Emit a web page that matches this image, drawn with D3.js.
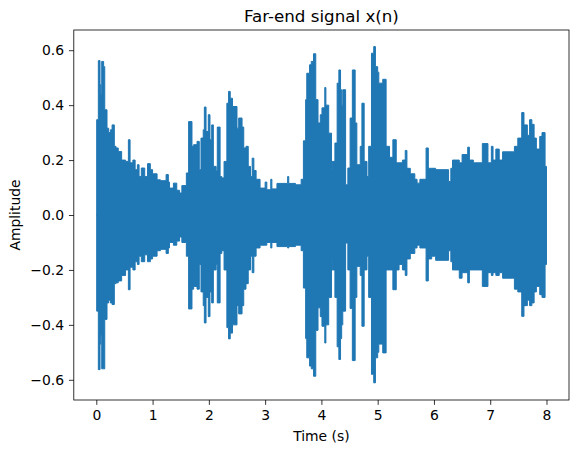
<!DOCTYPE html>
<html>
<head>
<meta charset="utf-8">
<script src="https://cdn.jsdelivr.net/npm/d3@7"></script>
<style>
  html, body { margin: 0; padding: 0; background: #fff; }
  svg { display: block; }
  text { font-family: "DejaVu Sans", sans-serif; fill: #000; }
</style>
</head>
<body>
<svg id="chart" width="579" height="453"></svg>
<script>
// Envelope of the far-end signal: segment start time (s),
// max amplitude and min amplitude within that segment.
const times = [0.000,0.007,0.036,0.066,0.080,0.096,0.130,0.150,0.190,0.220,0.250,0.280,0.320,0.350,0.390,0.450,0.520,0.570,0.600,0.650,0.690,0.730,0.760,0.800,0.860,0.910,0.960,1.000,1.080,1.140,1.240,1.280,1.300,1.370,1.430,1.480,1.520,1.600,1.640,1.700,1.730,1.790,1.830,1.860,1.900,1.920,1.950,1.990,2.020,2.050,2.080,2.130,2.150,2.200,2.230,2.270,2.320,2.350,2.380,2.420,2.500,2.530,2.590,2.620,2.660,2.700,2.740,2.770,2.800,2.840,2.910,3.000,3.030,3.100,3.120,3.210,3.400,3.420,3.540,3.640,3.680,3.720,3.740,3.790,3.820,3.860,3.900,3.940,3.980,4.010,4.060,4.080,4.130,4.180,4.190,4.240,4.280,4.310,4.340,4.360,4.380,4.430,4.470,4.510,4.550,4.600,4.630,4.690,4.720,4.760,4.810,4.840,4.890,4.930,4.960,5.000,5.020,5.090,5.150,5.210,5.270,5.330,5.380,5.440,5.490,5.520,5.580,5.660,5.700,5.750,5.860,5.900,5.960,6.030,6.260,6.300,6.330,6.450,6.500,6.600,6.630,6.700,6.860,6.960,7.020,7.050,7.100,7.160,7.220,7.400,7.430,7.490,7.560,7.600,7.660,7.700,7.740,7.780,7.820,7.880,7.920,7.975,8.000];
const upper = [0.000,0.347,0.562,0.474,0.440,0.559,0.540,0.383,0.316,0.300,0.310,0.328,0.250,0.244,0.231,0.200,0.195,0.274,0.190,0.200,0.165,0.183,0.140,0.171,0.140,0.187,0.165,0.150,0.128,0.125,0.147,0.120,0.098,0.116,0.090,0.080,0.107,0.153,0.340,0.250,0.256,0.268,0.165,0.280,0.310,0.393,0.304,0.365,0.274,0.328,0.177,0.160,0.320,0.140,0.135,0.195,0.407,0.450,0.425,0.395,0.316,0.353,0.320,0.244,0.250,0.177,0.140,0.207,0.162,0.130,0.098,0.120,0.092,0.130,0.095,0.115,0.140,0.115,0.110,0.130,0.270,0.420,0.516,0.547,0.559,0.587,0.420,0.335,0.365,0.390,0.464,0.400,0.298,0.165,0.195,0.262,0.480,0.528,0.456,0.400,0.456,0.110,0.171,0.353,0.528,0.335,0.183,0.250,0.407,0.195,0.140,0.250,0.589,0.613,0.540,0.520,0.480,0.494,0.250,0.210,0.274,0.190,0.190,0.200,0.235,0.170,0.150,0.130,0.116,0.130,0.244,0.170,0.170,0.165,0.122,0.170,0.200,0.190,0.220,0.247,0.200,0.190,0.260,0.190,0.250,0.200,0.240,0.200,0.230,0.230,0.250,0.280,0.373,0.328,0.290,0.347,0.330,0.280,0.240,0.286,0.300,0.177,0.000];
const lower = [0.000,-0.350,-0.563,-0.470,-0.440,-0.560,-0.560,-0.380,-0.320,-0.310,-0.320,-0.326,-0.250,-0.247,-0.240,-0.220,-0.200,-0.272,-0.190,-0.200,-0.170,-0.180,-0.150,-0.170,-0.145,-0.170,-0.160,-0.150,-0.130,-0.125,-0.140,-0.120,-0.100,-0.110,-0.095,-0.080,-0.100,-0.150,-0.342,-0.270,-0.260,-0.270,-0.180,-0.280,-0.330,-0.393,-0.300,-0.370,-0.280,-0.320,-0.200,-0.180,-0.320,-0.140,-0.130,-0.200,-0.410,-0.451,-0.430,-0.400,-0.330,-0.360,-0.330,-0.270,-0.250,-0.200,-0.150,-0.210,-0.150,-0.120,-0.110,-0.110,-0.100,-0.120,-0.100,-0.115,-0.120,-0.115,-0.110,-0.130,-0.266,-0.450,-0.520,-0.550,-0.560,-0.587,-0.420,-0.338,-0.370,-0.405,-0.466,-0.400,-0.300,-0.163,-0.200,-0.300,-0.480,-0.526,-0.450,-0.400,-0.350,-0.102,-0.200,-0.340,-0.530,-0.300,-0.187,-0.220,-0.405,-0.200,-0.150,-0.300,-0.580,-0.611,-0.520,-0.500,-0.470,-0.502,-0.200,-0.200,-0.272,-0.200,-0.180,-0.200,-0.220,-0.160,-0.140,-0.120,-0.110,-0.120,-0.240,-0.160,-0.150,-0.165,-0.130,-0.170,-0.200,-0.230,-0.210,-0.247,-0.200,-0.200,-0.260,-0.210,-0.220,-0.210,-0.220,-0.210,-0.230,-0.230,-0.270,-0.280,-0.369,-0.330,-0.310,-0.330,-0.320,-0.280,-0.260,-0.290,-0.300,-0.180,0.000];

const xTicks = [0, 1, 2, 3, 4, 5, 6, 7, 8];
const yTicks = [-0.6, -0.4, -0.2, 0.0, 0.2, 0.4, 0.6];
const titleText = "Far-end signal x(n)";
const xLabel = "Time (s)";
const yLabel = "Amplitude";

const W = 579, H = 453;
const plot = { left: 73.8, right: 569, top: 30, bottom: 400 };
const color = "#1f77b4";
const tickLen = 4.86;

const svg = d3.select("#chart");
const x = d3.scaleLinear().domain([-0.4, 8.4]).range([plot.left, plot.right]);
const y = d3.scaleLinear().domain([-0.6735, 0.6735]).range([plot.bottom, plot.top]);

const data = times.map((t, i) => ({ t, hi: upper[i], lo: lower[i] }));

svg.append("clipPath").attr("id", "clip")
  .append("rect").attr("x", plot.left).attr("y", plot.top)
  .attr("width", plot.right - plot.left).attr("height", plot.bottom - plot.top);

const area = d3.area()
  .x(d => x(d.t))
  .y0(d => y(d.lo))
  .y1(d => y(d.hi))
  .curve(d3.curveStepAfter);

svg.append("path")
  .datum(data)
  .attr("clip-path", "url(#clip)")
  .attr("d", area)
  .attr("fill", color)
  .attr("stroke", color)
  .attr("stroke-width", 1)
  .attr("stroke-linejoin", "miter");

// Axes
const xAxis = d3.axisBottom(x).tickValues(xTicks).tickFormat(d3.format("d"))
  .tickSizeInner(tickLen).tickSizeOuter(0).tickPadding(tickLen);
const yAxis = d3.axisLeft(y).tickValues(yTicks)
  .tickFormat(d => d3.format(".1f")(d).replace("-", "\u2212"))
  .tickSizeInner(tickLen).tickSizeOuter(0).tickPadding(tickLen);

const gx = svg.append("g").attr("transform", `translate(0,${plot.bottom})`).call(xAxis);
const gy = svg.append("g").attr("transform", `translate(${plot.left},0)`).call(yAxis);
[gx, gy].forEach(g => {
  g.select(".domain").remove();
  g.selectAll(".tick line").attr("stroke", "#000").attr("stroke-width", 0.8);
  g.selectAll(".tick text").attr("font-family", "DejaVu Sans").attr("font-size", "13.9px").attr("fill", "#000");
});

// Spines
svg.append("rect")
  .attr("x", plot.left).attr("y", plot.top)
  .attr("width", plot.right - plot.left).attr("height", plot.bottom - plot.top)
  .attr("fill", "none").attr("stroke", "#000").attr("stroke-width", 0.8);

// Title and labels
svg.append("text")
  .attr("x", (plot.left + plot.right) / 2).attr("y", 21.7)
  .attr("text-anchor", "middle").attr("font-size", "16.7px")
  .text(titleText);

svg.append("text")
  .attr("x", (plot.left + plot.right) / 2).attr("y", 441)
  .attr("text-anchor", "middle").attr("font-size", "13.9px")
  .text(xLabel);

svg.append("text")
  .attr("transform", `translate(20,${(plot.top + plot.bottom) / 2}) rotate(-90)`)
  .attr("text-anchor", "middle").attr("font-size", "13.9px")
  .text(yLabel);
</script>
</body>
</html>
